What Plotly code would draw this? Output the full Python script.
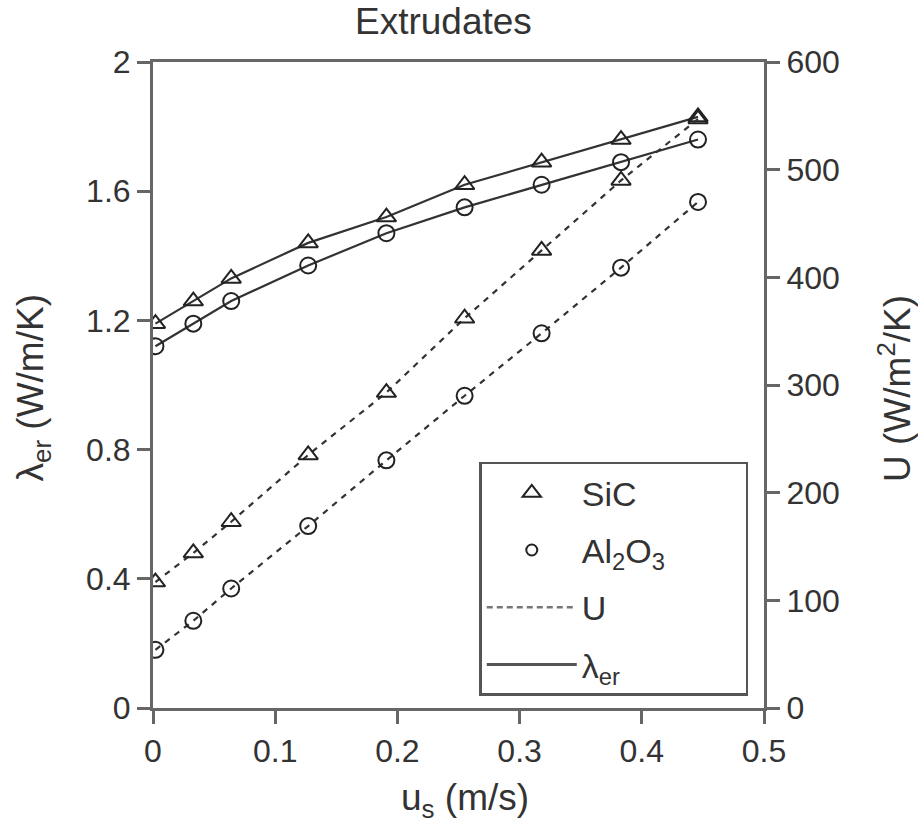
import plotly.graph_objects as go

# ---- data ----
us = [0.002, 0.033, 0.064, 0.127, 0.191, 0.255, 0.318, 0.383, 0.446]

lam_sic = [1.19, 1.26, 1.33, 1.44, 1.52, 1.62, 1.69, 1.76, 1.83]
lam_al2o3 = [1.12, 1.19, 1.26, 1.37, 1.47, 1.55, 1.62, 1.69, 1.76]

U_sic = [117, 144, 173, 235, 293, 362, 425, 490, 547]
U_al2o3 = [54, 81, 111, 169, 230, 290, 348, 409, 470]

x_ticks = [0, 0.1, 0.2, 0.3, 0.4, 0.5]
x_ticklabels = ["0", "0.1", "0.2", "0.3", "0.4", "0.5"]
y_ticks = [0, 0.4, 0.8, 1.2, 1.6, 2.0]
y_ticklabels = ["0", "0.4", "0.8", "1.2", "1.6", "2"]
y2_ticks = [0, 100, 200, 300, 400, 500, 600]
y2_ticklabels = ["0", "100", "200", "300", "400", "500", "600"]

legend_names = ["SiC", "Al<sub>2</sub>O<sub>3</sub>" + "\u00a0" * 8, "U", "λ<sub>er</sub>"]

FONT = "Liberation Sans, Arial, sans-serif"
TXT = "#333333"
AX = "#666666"
LINE = "#333333"
MK = "#222222"

fig = go.Figure()

mk_tri = dict(symbol="triangle-up-open", size=17, color=MK, line=dict(width=2, color=MK))
mk_cir = dict(symbol="circle-open", size=16, color=MK, line=dict(width=2, color=MK))

# lambda_er (solid, left axis)
fig.add_trace(go.Scatter(x=us, y=lam_sic, mode="lines+markers", marker=mk_tri,
                         line=dict(color=LINE, width=2.2), showlegend=False, yaxis="y"))
fig.add_trace(go.Scatter(x=us, y=lam_al2o3, mode="lines+markers", marker=mk_cir,
                         line=dict(color=LINE, width=2.2), showlegend=False, yaxis="y"))
# U (dashed, right axis)
fig.add_trace(go.Scatter(x=us, y=U_sic, mode="lines+markers", marker=mk_tri,
                         line=dict(color=LINE, width=2.2, dash="6px,6px"), showlegend=False, yaxis="y2"))
fig.add_trace(go.Scatter(x=us, y=U_al2o3, mode="lines+markers", marker=mk_cir,
                         line=dict(color=LINE, width=2.2, dash="6px,6px"), showlegend=False, yaxis="y2"))

# legend-only entries
fig.add_trace(go.Scatter(x=[None], y=[None], mode="markers", name=legend_names[0], legendgroup="a",
                         marker=dict(symbol="triangle-up-open", size=16, color=MK, line=dict(width=2, color=MK))))
fig.add_trace(go.Scatter(x=[None], y=[None], mode="markers", name=legend_names[1], legendgroup="b",
                         marker=dict(symbol="circle-open", size=11, color=MK, line=dict(width=2, color=MK))))
fig.add_trace(go.Scatter(x=[None], y=[None], mode="lines", name=legend_names[2], legendgroup="c",
                         line=dict(color="#777777", width=2.5, dash="6px,4px")))
fig.add_trace(go.Scatter(x=[None], y=[None], mode="lines", name=legend_names[3], legendgroup="d",
                         line=dict(color="#555555", width=3)))

axis_common = dict(showline=True, linecolor=AX, linewidth=3, ticks="outside",
                   ticklen=13, tickwidth=3, tickcolor=AX, showgrid=False, zeroline=False,
                   tickfont=dict(family=FONT, size=32, color=TXT))

fig.update_layout(
    width=918, height=826,
    margin=dict(l=153, r=154, t=62, b=118),
    paper_bgcolor="white", plot_bgcolor="white",
    font=dict(family=FONT, color=TXT),
    xaxis=dict(range=[0, 0.5], tickvals=x_ticks, ticktext=x_ticklabels, mirror=True, **axis_common),
    yaxis=dict(range=[0, 2], tickvals=y_ticks, ticktext=y_ticklabels, **axis_common),
    yaxis2=dict(range=[0, 600], tickvals=y2_ticks, ticktext=y2_ticklabels, overlaying="y",
                side="right", **axis_common),
    legend=dict(x=0.534, y=0.019, xanchor="left", yanchor="bottom",
                bordercolor="#555555", borderwidth=2.5, bgcolor="white",
                font=dict(family=FONT, size=34, color=TXT),
                traceorder="grouped", tracegroupgap=10, itemwidth=90),
    showlegend=True,
    annotations=[
        dict(text="Extrudates", x=0.475, y=1.062, xref="paper", yref="paper",
             xanchor="center", yanchor="middle", showarrow=False,
             font=dict(family=FONT, size=37, color=TXT)),
        dict(text="u<sub>s</sub> (m/s)", x=0.51, y=-0.142, xref="paper", yref="paper",
             xanchor="center", yanchor="middle", showarrow=False,
             font=dict(family=FONT, size=37, color=TXT)),
        dict(text="λ<sub>er</sub> (W/m/K)", x=-0.196, y=0.495, xref="paper", yref="paper",
             xanchor="center", yanchor="middle", showarrow=False, textangle=-90,
             font=dict(family=FONT, size=37, color=TXT)),
        dict(text="U (W/m<sup>2</sup>/K)", x=1.214, y=0.495, xref="paper", yref="paper",
             xanchor="center", yanchor="middle", showarrow=False, textangle=-90,
             font=dict(family=FONT, size=37, color=TXT)),
    ],
)

fig.write_html("out.html")
